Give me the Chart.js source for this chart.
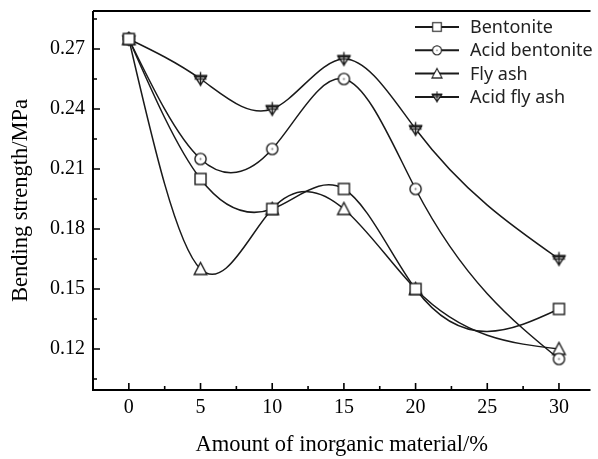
<!DOCTYPE html>
<html><head><meta charset="utf-8">
<script src="https://cdn.jsdelivr.net/npm/chart.js@4.4.0/dist/chart.umd.min.js"></script>
<style>html,body{margin:0;padding:0;background:#fff;} #wrap{width:598px;height:459px;}</style>
</head><body><div id="wrap"><canvas id="c" width="598" height="459"></canvas></div>
<script>
// ---- data ----
const amounts = [0, 5, 10, 15, 20, 30];
const bentonite = [0.275, 0.205, 0.190, 0.200, 0.150, 0.140];
const acidBentonite = [0.275, 0.215, 0.220, 0.255, 0.200, 0.115];
const flyAsh = [0.275, 0.160, 0.190, 0.190, 0.150, 0.120];
const acidFlyAsh = [0.275, 0.255, 0.240, 0.265, 0.230, 0.165];
const seriesNames = ['Bentonite', 'Acid bentonite', 'Fly ash', 'Acid fly ash'];
const xTicks = [0, 5, 10, 15, 20, 25, 30];
const yTicks = [0.12, 0.15, 0.18, 0.21, 0.24, 0.27];
const xLabel = 'Amount of inorganic material/%';
const yLabel = 'Bending strength/MPa';

// ---- marker images ----
const INK = '#1a1a1a';
function mk(draw){ const c=document.createElement('canvas'); c.width=17;c.height=17; const g=c.getContext('2d'); g.strokeStyle=INK; g.fillStyle='#fff'; g.lineWidth=1.4; draw(g); return c; }
const mSquare = mk(g=>{g.fillRect(3,3,11,11); g.strokeRect(3,3,11,11);});
const mCircle = mk(g=>{g.beginPath();g.arc(8.5,8.5,5.6,0,2*Math.PI);g.fill();g.stroke();g.fillStyle='#777';g.beginPath();g.arc(8.5,8.5,1,0,2*Math.PI);g.fill();});
const mTri = mk(g=>{g.beginPath();g.moveTo(8.5,2);g.lineTo(14.8,14);g.lineTo(2.2,14);g.closePath();g.fill();g.stroke();});
const mDown = mk(g=>{g.beginPath();g.moveTo(2.5,5.5);g.lineTo(14.5,5.5);g.lineTo(8.5,14.5);g.closePath();g.fill();g.stroke();
  g.fillStyle=INK; g.fillRect(2,4.5,13,2.4); g.beginPath(); g.moveTo(8.5,1.5); g.lineTo(8.5,15.5); g.stroke();
  g.beginPath(); g.moveTo(2.5,8.5); g.lineTo(14.5,8.5); g.stroke();});
const markers = [mSquare, mCircle, mTri, mDown];
const seriesValues = [bentonite, acidBentonite, flyAsh, acidFlyAsh];

// ---- natural cubic spline control points (computed in pixel space from scaled points) ----
const naturalSpline = {
  id: 'naturalSpline',
  beforeDatasetDraw(chart, args) {
    const meta = args.meta, line = meta.dataset;
    if (!line) return;
    line.updateControlPoints(chart.chartArea, meta.indexAxis);
    const pts = meta.data, n = pts.length;
    if (n < 3) return;
    const x = pts.map(p=>p.x), y = pts.map(p=>p.y);
    const h = []; for (let i=0;i<n-1;i++) h[i]=x[i+1]-x[i];
    const M = new Array(n).fill(0);
    const a=[],b=[],c=[],d=[];
    for (let i=1;i<n-1;i++){ a[i]=h[i-1]; b[i]=2*(h[i-1]+h[i]); c[i]=h[i]; d[i]=6*((y[i+1]-y[i])/h[i]-(y[i]-y[i-1])/h[i-1]); }
    for (let i=2;i<n-1;i++){ const w=a[i]/b[i-1]; b[i]-=w*c[i-1]; d[i]-=w*d[i-1]; }
    for (let i=n-2;i>=1;i--){ M[i]=(d[i]-(i<n-2?c[i]*M[i+1]:0))/b[i]; }
    const m = [];
    for (let i=0;i<n-1;i++) m[i]=(y[i+1]-y[i])/h[i]-h[i]*(2*M[i]+M[i+1])/6;
    m[n-1]=(y[n-1]-y[n-2])/h[n-2]+h[n-2]*(M[n-2]+2*M[n-1])/6;
    for (let i=0;i<n;i++){
      const p=pts[i];
      const hp = i>0?h[i-1]:0, hn = i<n-1?h[i]:0;
      p.cp1x = x[i]-hp/3; p.cp1y = y[i]-m[i]*hp/3;
      p.cp2x = x[i]+hn/3; p.cp2y = y[i]+m[i]*hn/3;
    }
  }
};

// ---- frame, inward ticks, legend ----
const frame = {
  id: 'frame',
  afterDatasetsDraw(chart) {
    const {ctx, chartArea:a, scales:{x:xs, y:ys}} = chart;
    ctx.save();
    ctx.strokeStyle = '#000'; ctx.lineWidth = 2;
    ctx.beginPath();
    ctx.moveTo(a.left, a.top); ctx.lineTo(a.left, a.bottom); ctx.lineTo(a.right, a.bottom);
    ctx.moveTo(a.left, a.top); ctx.lineTo(a.right, a.top);
    ctx.stroke();
    ctx.lineWidth = 1.6;
    ctx.beginPath();
    for (let v=-2.5; v<=xs.max; v+=2.5){
      const px = xs.getPixelForValue(v); if (px < a.left+1) continue;
      const len = (Math.abs(v%5) < 1e-9) ? 7 : 4;
      ctx.moveTo(px, a.bottom); ctx.lineTo(px, a.bottom-len);
    }
    for (let k=0; k<20; k++){
      const v = 0.105 + k*0.015; if (v > ys.max) break;
      const py = ys.getPixelForValue(v);
      const major = (k%2===1);
      ctx.moveTo(a.left, py); ctx.lineTo(a.left+(major?7:4), py);
    }
    ctx.stroke();
    // legend
    const lx0 = 415, lx1 = 459, tx = 470, ly0 = 27, dy = 23.3;
    ctx.font = '18px "Noto Sans"'; ctx.textBaseline = 'middle'; ctx.textAlign = 'left';
    seriesNames.forEach((nm,i)=>{
      const yy = ly0 + i*dy;
      ctx.strokeStyle = INK; ctx.lineWidth = 2;
      ctx.beginPath(); ctx.moveTo(lx0, yy); ctx.lineTo(lx1, yy); ctx.stroke();
      const img = markers[i];
      ctx.save(); ctx.translate((lx0+lx1)/2, yy); ctx.scale(0.8,0.8);
      ctx.drawImage(img, -img.width/2, -img.height/2); ctx.restore();
      ctx.fillStyle = '#222'; ctx.fillText(nm, tx, yy+1);
    });
    ctx.restore();
  }
};

const datasets = seriesValues.map((vals,i)=>({
  label: seriesNames[i],
  data: amounts.map((a,j)=>({x:a, y:vals[j]})),
  borderColor: INK, borderWidth: 1.5, backgroundColor: '#fff',
  tension: 0.4, pointStyle: markers[i], pointRadius: 6, fill: false
}));

new Chart(document.getElementById('c'), {
  type: 'line',
  data: { datasets },
  plugins: [naturalSpline, frame],
  options: {
    responsive: false, animation: false, devicePixelRatio: 1,
    layout: { padding: { top: 11, right: 0, left: 0, bottom: 0 } },
    plugins: { legend: { display: false }, tooltip: { enabled: false } },
    scales: {
      x: {
        type: 'linear', min: -2.5, max: 32.2,
        grid: { display: false, drawTicks: false }, border: { display: false },
        afterBuildTicks: s => { s.ticks = xTicks.map(v=>({value:v})); },
        afterFit: s => { s.height = 69; s.paddingLeft = 0; s.paddingRight = 0; },
        ticks: { padding: 6, color: '#000', font: { family: '"Liberation Serif"', size: 20 }, callback: v => String(v), maxRotation: 0, autoSkip: false },
        title: { display: true, text: xLabel, color: '#000', font: { family: '"Liberation Serif"', size: 22.5, lineHeight: 1.2 }, padding: { top: 0, bottom: 0 } }
      },
      y: {
        type: 'linear', min: 0.0995, max: 0.289,
        grid: { display: false, drawTicks: false }, border: { display: false },
        afterBuildTicks: s => { s.ticks = yTicks.map(v=>({value:v})); },
        afterFit: s => { s.width = 93; s.paddingTop = 0; s.paddingBottom = 0; },
        ticks: { padding: 8, color: '#000', font: { family: '"Liberation Serif"', size: 20 }, callback: v => v.toFixed(2), autoSkip: false },
        title: { display: true, text: yLabel, color: '#000', font: { family: '"Liberation Serif"', size: 22.5, lineHeight: 1.2 }, padding: { top: 8, bottom: 0 } }
      }
    }
  }
});
</script></body></html>
